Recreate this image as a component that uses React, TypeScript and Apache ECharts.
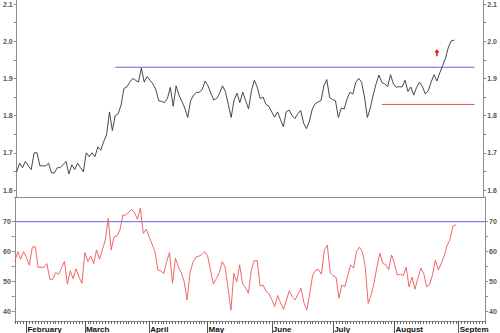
import React, { useEffect, useRef } from "react";
import * as echarts from "echarts";

// Month labels and number of trading days shown for each month
const monthNames = ["", "February", "March", "April", "May", "June", "July", "August", "September"];
const monthTradingDays = [4, 20, 22, 20, 22, 21, 21, 22, 10];

// Price series (top panel)
const price = [
  1.649, 1.672, 1.66, 1.677, 1.665, 1.655, 1.7, 1.7, 1.665, 1.665,
  1.665, 1.672, 1.646, 1.646, 1.66, 1.66, 1.668, 1.677, 1.643, 1.668,
  1.655, 1.672, 1.66, 1.649, 1.7, 1.69, 1.7, 1.69, 1.716, 1.707,
  1.73, 1.748, 1.81, 1.76, 1.8, 1.805, 1.828, 1.873, 1.877, 1.89,
  1.9, 1.895, 1.89, 1.928, 1.89, 1.905, 1.895, 1.885, 1.87, 1.84,
  1.838, 1.835, 1.846, 1.876, 1.825, 1.88, 1.855, 1.838, 1.82, 1.795,
  1.84, 1.855, 1.862, 1.863, 1.87, 1.893, 1.88, 1.86, 1.842, 1.846,
  1.86, 1.88, 1.865, 1.83, 1.795, 1.842, 1.86, 1.835, 1.863, 1.84,
  1.818, 1.867, 1.895, 1.877, 1.846, 1.85, 1.83, 1.825, 1.81, 1.796,
  1.81, 1.79, 1.77, 1.81, 1.815, 1.8, 1.792, 1.805, 1.814, 1.78,
  1.765, 1.785, 1.818, 1.832, 1.837, 1.84, 1.88, 1.897, 1.848, 1.843,
  1.84, 1.795, 1.82, 1.818, 1.845, 1.863, 1.858, 1.889, 1.9, 1.89,
  1.85, 1.795, 1.82, 1.855, 1.885, 1.909, 1.889, 1.885, 1.878, 1.91,
  1.885, 1.876, 1.878, 1.877, 1.895, 1.865, 1.877, 1.855, 1.876, 1.89,
  1.878, 1.858, 1.867, 1.89, 1.91, 1.893, 1.915, 1.935, 1.955, 1.985,
  2.001, 2.003,
];

// RSI series (bottom panel)
const rsi = [
  56.7, 60, 57.5, 60, 58, 55.5, 61.5, 61.7, 54.8, 54.8,
  54.8, 56, 50.8, 50.8, 53, 52.5, 54.5, 56.8, 49.2, 53.6,
  51, 54.3, 51.5, 49.5, 59.7, 56.7, 58.5, 56, 60.6, 57.5,
  60.6, 63.9, 71.1, 60.6, 65, 65.2, 67.2, 72.2, 72.2, 73.2,
  74.1, 73, 70.8, 74.5, 66.1, 67.5, 65, 62.5, 60, 53.9,
  53.6, 52.7, 56.7, 59.7, 49.5, 57.8, 55, 53, 50, 43.9,
  53, 56.5, 58.2, 58.5, 59, 60, 58.7, 54, 49.2, 51,
  53, 56.7, 55, 48, 40.5, 52.8, 50, 55.6, 49.3, 48,
  46.1, 53.9, 57, 57, 48.5, 48.9, 46.9, 46.1, 44, 41.7,
  45.4, 43, 40.8, 43.9, 47, 45, 43.9, 46, 47.8, 43,
  40.6, 46, 52.2, 53.8, 54.1, 52.5, 60.6, 62.2, 53, 52,
  51.5, 44.5, 48.9, 48.3, 52, 55.6, 54.5, 60, 61.5, 60,
  55, 42.8, 45.6, 49.5, 55, 59.5, 56.1, 55.7, 54, 58.9,
  56, 52.2, 52.5, 52, 54.8, 48.3, 51.5, 47.5, 51, 54.5,
  52.8, 48.3, 49, 52.2, 57.2, 53.9, 56, 58.5, 62, 64,
  68.5, 69,
];

// Tick values
const priceTicks = [1.6, 1.65, 1.7, 1.75, 1.8, 1.85, 1.9, 1.95, 2.0, 2.05, 2.1];
const priceLabels = [1.6, 1.7, 1.8, 1.9, 2.0, 2.1];
const rsiTicks = [40, 45, 50, 55, 60, 65, 70];
const rsiLabels = [40, 50, 60, 70];

// Reference lines: [startIndex, endIndex, level]
const resistanceLine = [34, 158, 1.93];
const supportLine = [126, 158, 1.83];
const rsiLevel = 70;
const arrowPoint = [144.5, 1.969];

const categories: string[] = [];
const monthStart = new Map<number, string>();
monthTradingDays.forEach((n, m) => {
  for (let d = 0; d < n; d++) {
    if (d === 0 && monthNames[m]) monthStart.set(categories.length, monthNames[m]);
    categories.push(`${monthNames[m] || "January"} ${d + 1}`);
  }
});

const FONT = 'Arial, "Liberation Sans", sans-serif';
const AXIS_GRAY = "#8c8c8c";
const BLUE = "#6464e6";
const RED_LINE = "#ec5050";

export default function App() {
  const ref = useRef<HTMLDivElement>(null);
  useEffect(() => {
    if (!ref.current) return;
    const chart = echarts.init(ref.current, undefined, { renderer: "svg" });
    const yLabel = { fontSize: 7, color: "#555", fontFamily: FONT, fontWeight: "bold" as const, margin: 4 };
    const priceAxis = (pos: "left" | "right") => ({
      type: "value" as const,
      gridIndex: 0,
      position: pos,
      min: 1.5812,
      max: 2.1108,
      axisLine: { show: true, lineStyle: { color: AXIS_GRAY, width: 1 } },
      axisTick: { show: true, length: 3, customValues: priceTicks, lineStyle: { color: AXIS_GRAY } },
      axisLabel: { ...yLabel, customValues: priceLabels, formatter: (v: number) => v.toFixed(1) },
      splitLine: { show: false },
    });
    const rsiAxis = (pos: "left" | "right") => ({
      type: "value" as const,
      gridIndex: 1,
      position: pos,
      min: 36.9,
      max: 78.23,
      axisLine: { show: true, lineStyle: { color: AXIS_GRAY, width: 1 } },
      axisTick: { show: true, length: 3, customValues: rsiTicks, lineStyle: { color: AXIS_GRAY } },
      axisLabel: { ...yLabel, customValues: rsiLabels },
      splitLine: { show: false },
    });
    const lastIndex = categories.length - 1;
    const levelSeries = (
      xi: number, yi: number, from: number, to: number, level: number, color: string, z: number
    ) => ({
      type: "line", xAxisIndex: xi, yAxisIndex: yi,
      data: [[from, level], [to, level]],
      showSymbol: false, symbol: "none", silent: true, z,
      lineStyle: { color, width: 1, type: "solid" },
      itemStyle: { color },
    });
    chart.setOption({
      animation: false,
      backgroundColor: "#ffffff",
      grid: [
        { left: 14, right: 15, top: 0, height: 197 },
        { left: 14, right: 15, top: 197, height: 124 },
      ],
      xAxis: [
        {
          type: "category", gridIndex: 0, data: categories, boundaryGap: false,
          axisLine: { show: true, lineStyle: { color: AXIS_GRAY } },
          axisTick: { show: false }, axisLabel: { show: false },
        },
        {
          type: "category", gridIndex: 1, data: categories, boundaryGap: false, position: "top",
          axisLine: { show: true, lineStyle: { color: AXIS_GRAY } },
          axisTick: { show: false }, axisLabel: { show: false },
        },
        {
          type: "category", gridIndex: 1, data: categories, boundaryGap: false, position: "bottom",
          axisLine: { show: true, lineStyle: { color: AXIS_GRAY } },
          axisTick: { show: true, length: 3, interval: 0, lineStyle: { color: "#666" } },
          axisLabel: { show: false },
        },
        {
          type: "category", gridIndex: 1, data: categories, boundaryGap: false, position: "bottom",
          axisLine: { show: false },
          axisTick: {
            show: true, length: 12,
            interval: (i: number) => monthStart.has(i),
            lineStyle: { color: "#555" },
          },
          axisLabel: {
            show: true,
            interval: (i: number) => monthStart.has(i),
            // labels running past the right edge of the plot are cut off
            formatter: (_v: string, i: number) => {
              const name = monthStart.get(i) || "";
              const room = lastIndex - i;
              return room < 12 ? name.slice(0, Math.max(1, Math.round(room * 0.7))) : name;
            },
            align: "left",
            padding: [0, 0, 0, 1],
            margin: 4,
            fontSize: 8,
            fontWeight: "bold",
            color: "#111",
            fontFamily: FONT,
          },
        },
      ],
      yAxis: [priceAxis("left"), priceAxis("right"), rsiAxis("left"), rsiAxis("right")],
      series: [
        levelSeries(0, 0, resistanceLine[0], resistanceLine[1], resistanceLine[2], BLUE, 1),
        levelSeries(0, 0, supportLine[0], supportLine[1], supportLine[2], RED_LINE, 1),
        levelSeries(2, 2, 0, lastIndex, rsiLevel, BLUE, 1),
        {
          type: "line", xAxisIndex: 0, yAxisIndex: 0, data: price, z: 3,
          showSymbol: false, symbol: "none",
          lineStyle: { color: "#333", width: 0.9 },
          itemStyle: { color: "#333" },
          markPoint: {
            silent: true,
            data: [
              {
                coord: arrowPoint,
                symbol: "path://M5,0 L10,5 L6.5,5 L6.5,11 L3.5,11 L3.5,5 L0,5 Z",
                symbolSize: [5, 7],
                itemStyle: { color: "#e01010" },
                label: { show: false },
              },
            ],
          },
        },
        {
          type: "line", xAxisIndex: 2, yAxisIndex: 2, data: rsi, z: 3,
          showSymbol: false, symbol: "none",
          lineStyle: { color: "#f05555", width: 0.9 },
          itemStyle: { color: "#f05555" },
        },
      ],
    });
    return () => chart.dispose();
  }, []);
  return (
    <div
      ref={ref}
      style={{ position: "absolute", left: 0, top: 0, width: 500, height: 333, background: "#fff" }}
    />
  );
}
